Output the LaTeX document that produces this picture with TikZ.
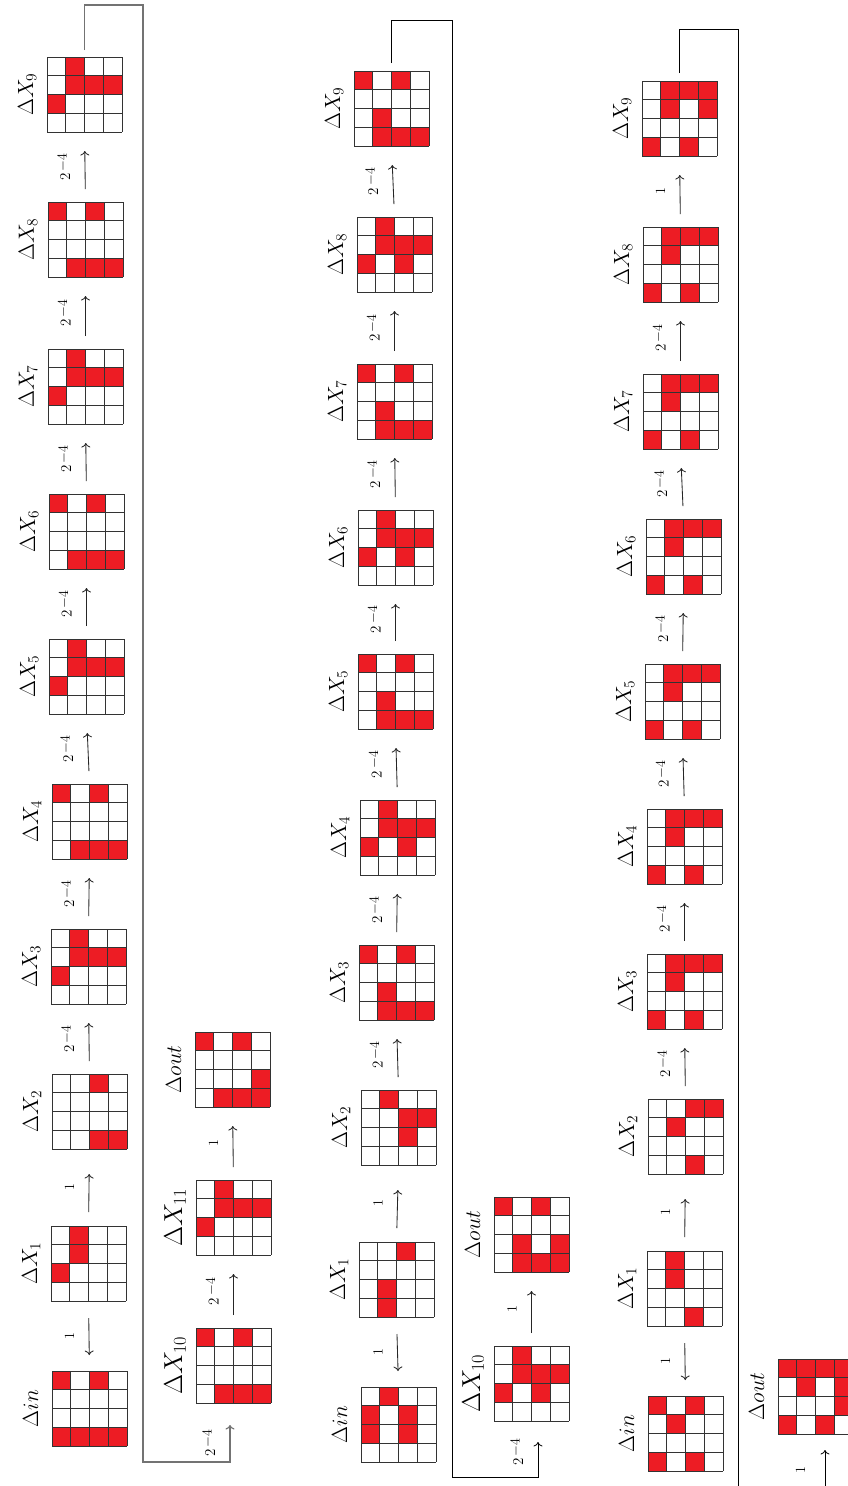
\RequirePackage{fix-cm}
\documentclass[tikz,border=0pt]{standalone}
\usetikzlibrary{arrows.meta,calc}
\definecolor{cellred}{RGB}{237,28,36}
\tikzset{
  gridbox/.style={minimum size=75pt, inner sep=0pt, outer sep=0pt, draw=none},
  gridline/.style={draw=black!80, line width=0.9pt},
  redcell/.style={fill=cellred},
  flow/.style={-{To[length=4.5pt,width=9pt]}, line width=0.85pt, draw=black!85},
  uparrow/.style={flow, shorten <=13pt, shorten >=19pt},
  uplong/.style={flow, shorten <=14pt, shorten >=25pt},
  downarrow/.style={flow, shorten <=17pt, shorten >=16pt},
  fbgray/.style={flow, draw=black!55, line width=1.2pt, shorten <=7pt, shorten >=22pt},
  fbblack/.style={flow, draw=black, line width=0.8pt, shorten <=8pt, shorten >=21pt},
  gl/.style={rotate=90, anchor=base, inner sep=0pt, font=\fontsize{22}{26}\selectfont},
  glbig/.style={gl, font=\fontsize{26}{30}\selectfont},
  al/.style={rotate=90, anchor=base, inner sep=0pt, font=\fontsize{14}{16}\selectfont},
}
\newcommand{\tfour}{{\fontsize{15}{16}\selectfont$2$}\hspace{2pt}\raisebox{3.5pt}{\fontsize{14}{14}\selectfont$-4$}}
\newcommand{\mkgrid}[4]{%
  \node[gridbox] (#1) at ({#2+37.5},{#3+37.5}) {};
  \foreach \cx/\ry in {#4} {\fill[redcell] ({#2+(\cx-1)*18.75},{#3+(\ry-1)*18.75}) rectangle ++(18.75,18.75);}
  \foreach \ii in {0,...,4} {\draw[gridline] ({#2+\ii*18.75},#3) -- ++(0,75); \draw[gridline] (#2,{#3+\ii*18.75}) -- ++(75,0);}
}
\newcommand{\glab}[3]{\node[#2] (l#1) at ($(#1.west)+(-14,0)$) {#3};}
\newcommand{\arr}[5]{%
  \draw[#1] (#2) -- coordinate (m#5) (#3);
  \node[al] (t#5) at ($(m#5)+(-15,0)$) {#4};
}
\begin{document}
\begin{tikzpicture}[x=1pt,y=-1pt]
\useasboundingbox (0,0) rectangle (848,1486);
\clip (0,0) rectangle (848,1486);
\fill[white] (0,0) rectangle (848,1486);
% ---------------- column 1 ----------------
\mkgrid{a9}{47}{57}{2/1,2/2,3/2,4/2,1/3}
\mkgrid{a8}{48}{202}{1/1,3/1,2/4,3/4,4/4}
\mkgrid{a7}{48}{349}{2/1,2/2,3/2,4/2,1/3}
\mkgrid{a6}{49}{494}{1/1,3/1,2/4,3/4,4/4}
\mkgrid{a5}{49}{639}{2/1,2/2,3/2,4/2,1/3}
\mkgrid{a4}{52}{784}{1/1,3/1,2/4,3/4,4/4}
\mkgrid{a3}{51}{929}{2/1,2/2,3/2,4/2,1/3}
\mkgrid{a2}{52}{1074}{3/1,3/4,4/4}
\mkgrid{a1}{51}{1226}{2/1,2/2,1/3}
\mkgrid{ain}{52}{1371}{1/1,3/1,1/4,2/4,3/4,4/4}
\mkgrid{b10}{196}{1328}{1/1,3/1,2/4,3/4,4/4}
\mkgrid{b11}{196}{1180}{2/1,2/2,3/2,4/2,1/3}
\mkgrid{bout}{195}{1032}{1/1,3/1,4/3,2/4,3/4,4/4}
\glab{a9}{gl}{$\Delta X_9$}
\glab{a8}{gl}{$\Delta X_8$}
\glab{a7}{gl}{$\Delta X_7$}
\glab{a6}{gl}{$\Delta X_6$}
\glab{a5}{gl}{$\Delta X_5$}
\glab{a4}{gl}{$\Delta X_4$}
\glab{a3}{gl}{$\Delta X_3$}
\glab{a2}{gl}{$\Delta X_2$}
\glab{a1}{gl}{$\Delta X_1$}
\glab{ain}{gl}{$\Delta in$}
\glab{b10}{glbig}{$\Delta X_{10}$}
\glab{b11}{glbig}{$\Delta X_{11}$}
\glab{bout}{gl}{$\Delta out$}
\arr{downarrow}{a1.south}{ain.north}{$1$}{a01}
\arr{uplong}{a1.north}{a2.south}{$1$}{a12}
\arr{uparrow}{a2.north}{a3.south}{\tfour}{a23}
\arr{uparrow}{a3.north}{a4.south}{\tfour}{a34}
\arr{uparrow}{a4.north}{a5.south}{\tfour}{a45}
\arr{uparrow}{a5.north}{a6.south}{\tfour}{a56}
\arr{uparrow}{a6.north}{a7.south}{\tfour}{a67}
\arr{uparrow}{a7.north}{a8.south}{\tfour}{a78}
\arr{uparrow}{a8.north}{a9.south}{\tfour}{a89}
\arr{uparrow}{b10.north}{b11.south}{\tfour}{b1011}
\arr{uparrow}{b11.north}{bout.south}{$1$}{b11o}
\coordinate (f1a) at (143,5);
\coordinate (f1b) at (143,1462);
\coordinate (f1c) at (230,1462);
\draw[fbgray] (a9.north) -- (a9.north |- f1a) -- (f1a) -- (f1b) -- (f1c) -- (f1c |- b10.south);
\node[al] (tf1) at ($(f1c)+(-15,-19)$) {\tfour};
% ---------------- column 2 ----------------
\mkgrid{c9}{354}{71}{1/1,3/1,2/3,2/4,3/4,4/4}
\mkgrid{c8}{357}{217}{2/1,2/2,3/2,4/2,1/3,3/3}
\mkgrid{c7}{357}{364}{1/1,3/1,2/3,2/4,3/4,4/4}
\mkgrid{c6}{358}{510}{2/1,2/2,3/2,4/2,1/3,3/3}
\mkgrid{c5}{358}{654}{1/1,3/1,2/3,2/4,3/4,4/4}
\mkgrid{c4}{360}{800}{2/1,2/2,3/2,4/2,1/3,3/3}
\mkgrid{c3}{359}{945}{1/1,3/1,2/3,2/4,3/4,4/4}
\mkgrid{c2}{361}{1090}{2/1,3/2,4/2,3/3}
\mkgrid{c1}{359}{1242}{3/1,2/3,2/4}
\mkgrid{cin}{361}{1387}{2/1,1/2,3/2,1/3,3/3}
\mkgrid{c10}{494}{1346}{2/1,2/2,3/2,4/2,1/3,3/3}
\mkgrid{cout}{494}{1197}{1/1,3/1,2/3,4/3,2/4,3/4,4/4}
\glab{c9}{gl}{$\Delta X_9$}
\glab{c8}{gl}{$\Delta X_8$}
\glab{c7}{gl}{$\Delta X_7$}
\glab{c6}{gl}{$\Delta X_6$}
\glab{c5}{gl}{$\Delta X_5$}
\glab{c4}{gl}{$\Delta X_4$}
\glab{c3}{gl}{$\Delta X_3$}
\glab{c2}{gl}{$\Delta X_2$}
\glab{c1}{gl}{$\Delta X_1$}
\glab{cin}{gl}{$\Delta in$}
\glab{c10}{glbig}{$\Delta X_{10}$}
\glab{cout}{gl}{$\Delta out$}
\arr{downarrow}{c1.south}{cin.north}{$1$}{c01}
\arr{uplong}{c1.north}{c2.south}{$1$}{c12}
\arr{uparrow}{c2.north}{c3.south}{\tfour}{c23}
\arr{uparrow}{c3.north}{c4.south}{\tfour}{c34}
\arr{uparrow}{c4.north}{c5.south}{\tfour}{c45}
\arr{uparrow}{c5.north}{c6.south}{\tfour}{c56}
\arr{uparrow}{c6.north}{c7.south}{\tfour}{c67}
\arr{uparrow}{c7.north}{c8.south}{\tfour}{c78}
\arr{uparrow}{c8.north}{c9.south}{\tfour}{c89}
\arr{uparrow}{c10.north}{cout.south}{$1$}{c10o}
\coordinate (f2a) at (452,20);
\coordinate (f2b) at (452,1477);
\coordinate (f2c) at (538,1477);
\draw[fbblack] (c9.north) -- (c9.north |- f2a) -- (f2a) -- (f2b) -- (f2c) -- (f2c |- c10.south);
\node[al] (tf2) at ($(f2c)+(-15,-25)$) {\tfour};
% ---------------- column 3 ----------------
\mkgrid{d9}{642}{81}{2/1,3/1,4/1,2/2,4/2,1/4,3/4}
\mkgrid{d8}{643}{227}{2/1,3/1,4/1,2/2,1/4,3/4}
\mkgrid{d7}{643}{374}{2/1,3/1,4/1,2/2,1/4,3/4}
\mkgrid{d6}{646}{519}{2/1,3/1,4/1,2/2,1/4,3/4}
\mkgrid{d5}{645}{664}{2/1,3/1,4/1,2/2,1/4,3/4}
\mkgrid{d4}{647}{809}{2/1,3/1,4/1,2/2,1/4,3/4}
\mkgrid{d3}{647}{954}{2/1,3/1,4/1,2/2,1/4,3/4}
\mkgrid{d2}{648}{1099}{3/1,4/1,2/2,3/4}
\mkgrid{d1}{647}{1251}{2/1,2/2,3/4}
\mkgrid{din}{648}{1396}{1/1,3/1,2/2,1/4,3/4}
\mkgrid{dout}{778}{1359}{1/1,2/1,3/1,4/1,2/2,4/2,4/3,1/4,3/4}
\glab{d9}{gl}{$\Delta X_9$}
\glab{d8}{gl}{$\Delta X_8$}
\glab{d7}{gl}{$\Delta X_7$}
\glab{d6}{gl}{$\Delta X_6$}
\glab{d5}{gl}{$\Delta X_5$}
\glab{d4}{gl}{$\Delta X_4$}
\glab{d3}{gl}{$\Delta X_3$}
\glab{d2}{gl}{$\Delta X_2$}
\glab{d1}{gl}{$\Delta X_1$}
\glab{din}{gl}{$\Delta in$}
\glab{dout}{gl}{$\Delta out$}
\arr{downarrow}{d1.south}{din.north}{$1$}{d01}
\arr{uplong}{d1.north}{d2.south}{$1$}{d12}
\arr{uparrow}{d2.north}{d3.south}{\tfour}{d23}
\arr{uparrow}{d3.north}{d4.south}{\tfour}{d34}
\arr{uparrow}{d4.north}{d5.south}{\tfour}{d45}
\arr{uparrow}{d5.north}{d6.south}{\tfour}{d56}
\arr{uparrow}{d6.north}{d7.south}{\tfour}{d67}
\arr{uparrow}{d7.north}{d8.south}{\tfour}{d78}
\arr{uparrow}{d8.north}{d9.south}{$1$}{d89}
\coordinate (f3a) at (738,29);
\coordinate (f3b) at (738,1500);
\coordinate (f3c) at (825,1500);
\draw[fbblack, shorten >=16pt] (d9.north) -- (d9.north |- f3a) -- (f3a) -- (f3b) -- (f3c) -- (f3c |- dout.south);
\node[al] (tf3) at ($(f3c)+(-20,-30)$) {$1$};
\end{tikzpicture}
\end{document}
